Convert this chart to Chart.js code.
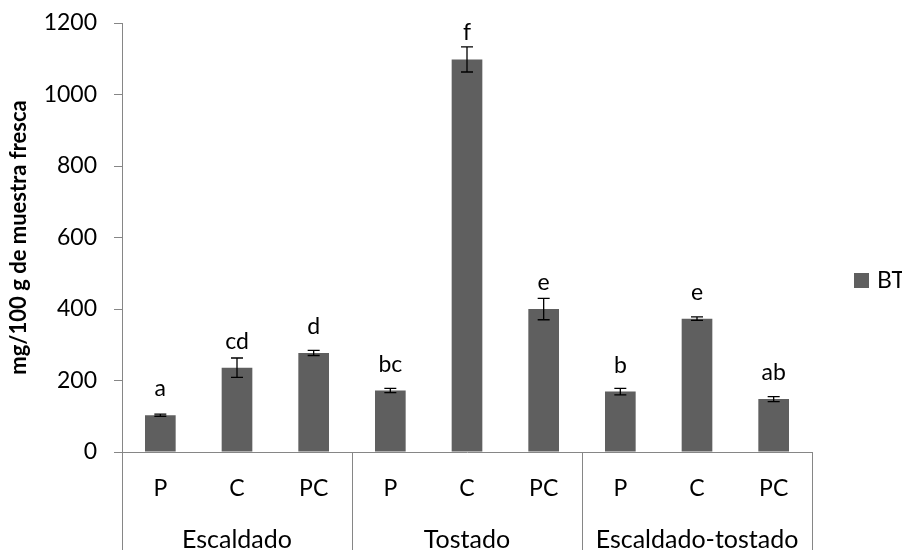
<!DOCTYPE html>
<html>
<head>
<meta charset="utf-8">
<script src="https://cdn.jsdelivr.net/npm/chart.js@4/dist/chart.umd.min.js"></script>
<style>
  html, body { margin: 0; padding: 0; background: #fff; }
  canvas { display: block; }
</style>
</head>
<body>
<canvas id="grafico" width="902" height="550"></canvas>
<script>
// Datos del gráfico
const categorias = ["P", "C", "PC", "P", "C", "PC", "P", "C", "PC"];
const grupos = ["Escaldado", "Tostado", "Escaldado-tostado"];
const valoresBT = [103, 236, 277, 172, 1098, 400, 169, 373, 148];
const erroresBT = [3, 27, 7, 6, 35, 30, 9, 5, 7];
const letras = ["a", "cd", "d", "bc", "f", "e", "b", "e", "ab"];
const ticksY = [0, 200, 400, 600, 800, 1000, 1200];

const colorBarra = "#5f5f5f";
const colorEje = "#868686";
const fuente = "Lato, 'Open Sans', sans-serif";

// Plugin para barras de error, letras, grupos y leyenda
const extras = {
    id: "extras",
    afterDatasetsDraw(chart) {
        const ctx = chart.ctx;
        const meta = chart.getDatasetMeta(0);
        const y = chart.scales.y;
        const x = chart.scales.x;

        ctx.save();
        // barras de error
        ctx.strokeStyle = "#000";
        ctx.lineWidth = 1.3;
        meta.data.forEach(function (bar, i) {
            const arriba = y.getPixelForValue(valoresBT[i] + erroresBT[i]);
            const abajo = y.getPixelForValue(valoresBT[i] - erroresBT[i]);
            ctx.beginPath();
            ctx.moveTo(bar.x, arriba);
            ctx.lineTo(bar.x, abajo);
            ctx.moveTo(bar.x - 6, arriba);
            ctx.lineTo(bar.x + 6, arriba);
            ctx.moveTo(bar.x - 6, abajo);
            ctx.lineTo(bar.x + 6, abajo);
            ctx.stroke();
        });

        // letras de significancia
        ctx.fillStyle = "#000";
        ctx.font = "23px " + fuente;
        ctx.textAlign = "center";
        ctx.textBaseline = "alphabetic";
        meta.data.forEach(function (bar, i) {
            ctx.fillText(letras[i], bar.x, bar.y - 19);
        });

        // líneas de separación de grupos
        const fondo = chart.height;
        ctx.strokeStyle = colorEje;
        ctx.lineWidth = 1;
        const bordes = [];
        for (let g = 0; g <= grupos.length; g++) {
            const idx = g * 3;
            let px;
            if (idx === 0) px = x.left;
            else if (idx >= categorias.length) px = x.right;
            else px = (x.getPixelForValue(idx - 1) + x.getPixelForValue(idx)) / 2;
            bordes.push(px);
            ctx.beginPath();
            ctx.moveTo(Math.round(px) + 0.5, y.bottom);
            ctx.lineTo(Math.round(px) + 0.5, fondo);
            ctx.stroke();
        }

        // nombres de grupos
        ctx.fillStyle = "#000";
        ctx.font = "25px " + fuente;
        grupos.forEach(function (nombre, g) {
            ctx.fillText(nombre, (bordes[g] + bordes[g + 1]) / 2, 548);
        });

        // leyenda
        ctx.font = "23px " + fuente;
        const lx = x.right + 42;
        const ly = 280;
        ctx.fillStyle = colorBarra;
        ctx.fillRect(lx, ly - 7, 15, 15);
        ctx.fillStyle = "#000";
        ctx.textAlign = "left";
        ctx.textBaseline = "middle";
        ctx.fillText("BT", lx + 23, ly + 1);
        ctx.restore();
    }
};

const ctx = document.getElementById("grafico").getContext("2d");
new Chart(ctx, {
    type: "bar",
    data: {
        labels: categorias,
        datasets: [{
            label: "BT",
            data: valoresBT,
            backgroundColor: colorBarra,
            barPercentage: 0.4,
            categoryPercentage: 1.0
        }]
    },
    options: {
        responsive: false,
        animation: false,
        layout: { padding: { top: 23, right: 90, left: 0, bottom: 0 } },
        plugins: {
            legend: { display: false },
            tooltip: { enabled: false }
        },
        scales: {
            x: {
                grid: { display: false, drawTicks: false },
                border: { display: true, color: colorEje },
                ticks: {
                    color: "#000",
                    font: { family: fuente, size: 23 },
                    padding: 23,
                    maxRotation: 0,
                    autoSkip: false
                },
                afterFit: function (s) { s.height = 98; }
            },
            y: {
                min: 0,
                max: 1200,
                afterBuildTicks: function (s) {
                    s.ticks = ticksY.map(function (v) { return { value: v }; });
                },
                grid: { drawOnChartArea: false, drawTicks: true, tickLength: 8, color: colorEje },
                border: { display: true, color: colorEje },
                ticks: {
                    color: "#000",
                    font: { family: fuente, size: 23 },
                    padding: 17,
                    callback: function (v) { return String(v); }
                },
                title: {
                    display: true,
                    text: "mg/100 g de muestra fresca",
                    color: "#000",
                    font: { family: fuente, size: 22, weight: "bold" },
                    padding: { top: 6, bottom: 0 }
                },
                afterFit: function (s) {
                    s.width = 122;
                    s.paddingTop = 0;
                    s.paddingBottom = 0;
                }
            }
        }
    },
    plugins: [extras]
});
</script>
</body>
</html>
